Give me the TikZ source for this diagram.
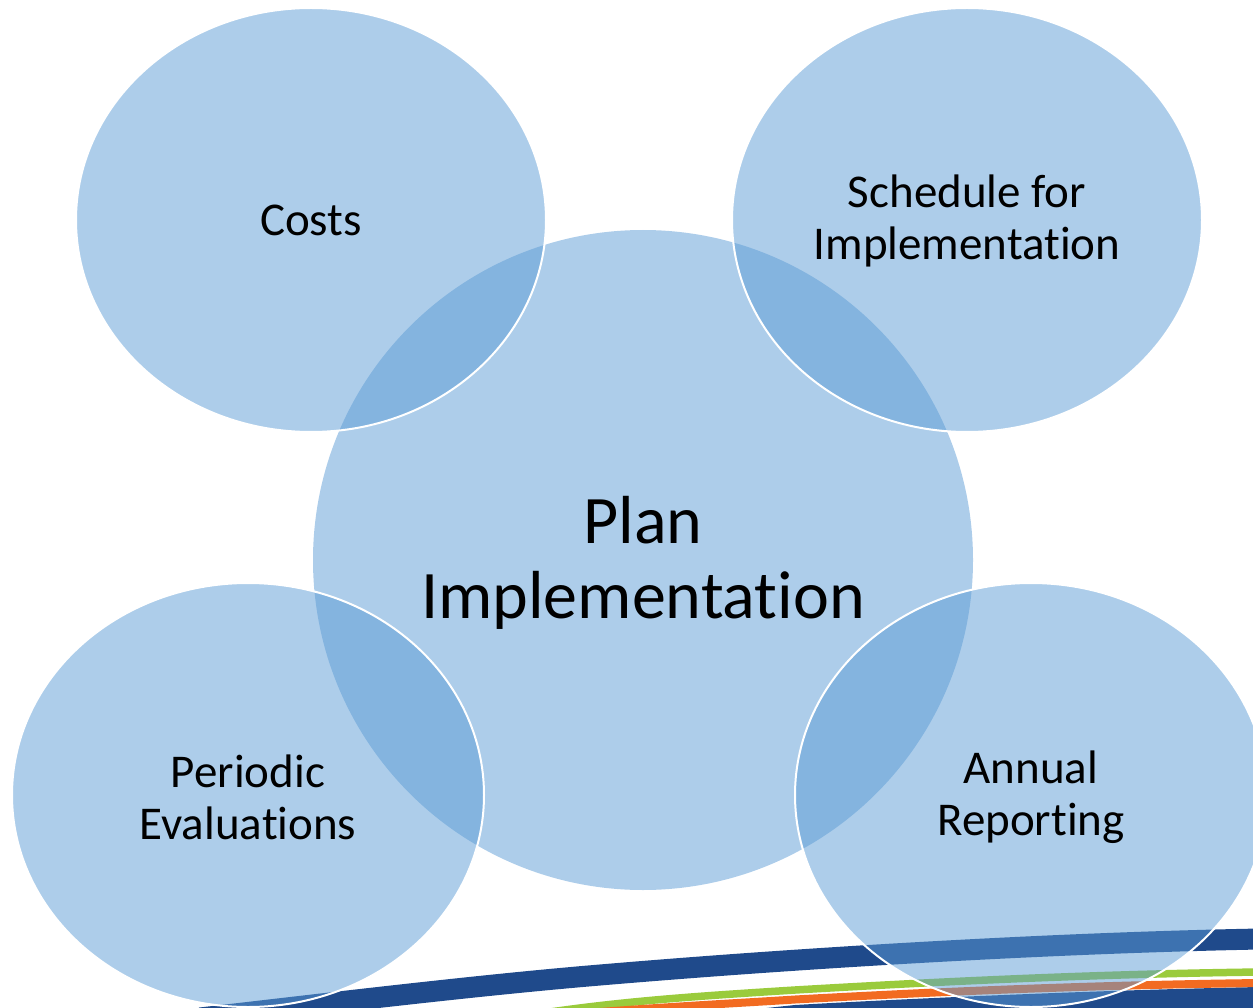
\documentclass[tikz,border=0pt]{standalone}
\usepackage{fontspec}
\setmainfont{Carlito}[Ligatures=NoCommon]
\begin{document}
\begin{tikzpicture}[x=1pt,y=-1pt,
  sat/.style={fill=bubble,fill opacity=0.5,draw=white,draw opacity=1,line width=2pt},
  mid/.style={fill=bubble,fill opacity=0.5},
  small/.style={align=center,font=\fontsize{47}{52}\selectfont,text=black},
  big/.style={align=center,font=\fontsize{68}{75}\selectfont,text=black}]
\definecolor{bubble}{HTML}{5B9BD5}
\definecolor{swblue}{HTML}{1F4A8B}
\definecolor{swgreen}{HTML}{9ACB3C}
\definecolor{sworange}{HTML}{F26B21}
\useasboundingbox (0,0) rectangle (1253,1008);
\clip (0,0) rectangle (1253,1008);
% swooshes
\fill[swblue] (795,1005) .. controls (900,999) and (1100,990) .. (1260,987) -- (1260,1015) -- (700,1015) -- cycle;
\draw[swblue,line width=21pt] (200,1018) .. controls (330,1003) and (480,985) .. (600,975) .. controls (800,958) and (1050,943) .. (1260,939);
\draw[swgreen,line width=7.5pt] (530,1015) .. controls (620,1001) and (700,996) .. (795,990) .. controls (950,981) and (1100,974) .. (1260,972);
\draw[sworange,line width=8pt] (600,1012) .. controls (680,1006) and (740,1003) .. (795,999.5) .. controls (950,991) and (1100,985) .. (1260,983);
% bubbles
\path[mid] (643,560) circle (330);
\path[sat] (311,220) ellipse (235 and 212);
\path[sat] (967,220) ellipse (235 and 212);
\path[sat] (248,795) ellipse (236 and 212);
\path[sat] (1031,795) ellipse (236 and 212);
% labels
\node[big] (plan) at (643,563) {Plan\\Implementation};
\node[small] (costs) at (311,220) {Costs};
\node[small] (sched) at (967,221) {Schedule for\\Implementation};
\node[small] (per) at (248,797) {Periodic\\Evaluations};
\node[small] (ann) at (1031,797) {Annual\\Reporting};
\end{tikzpicture}
\end{document}
